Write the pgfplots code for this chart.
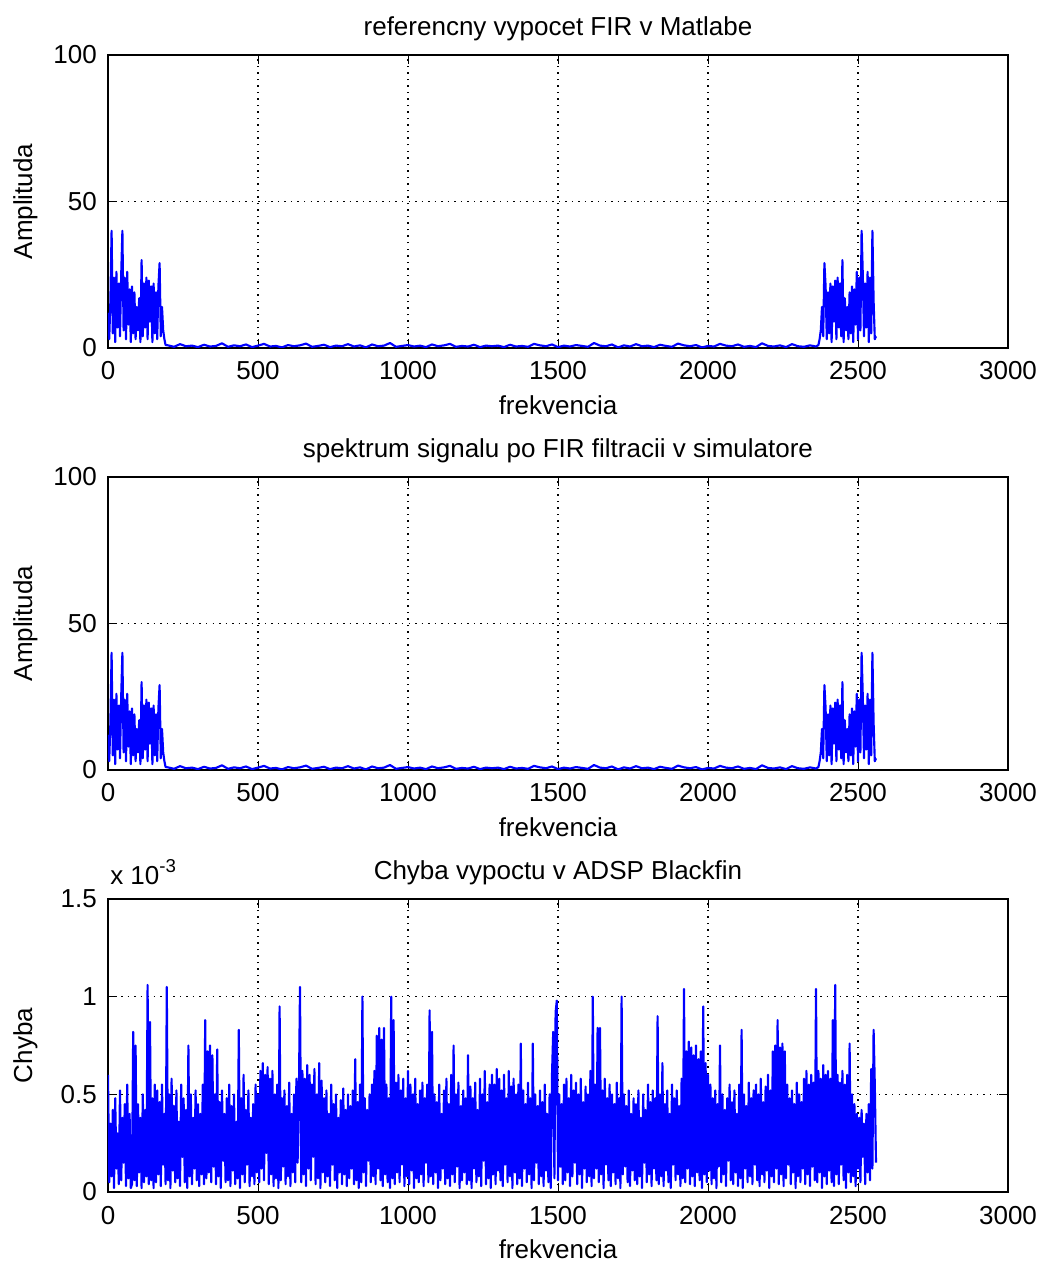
\documentclass[border=0pt]{standalone}
\usepackage{fontspec}
\setmainfont{Liberation Sans}
\usepackage{pgfplots}
\pgfplotsset{compat=1.18}
\pgfplotsset{
 mstyle/.style={
  scale only axis, width=675pt, height=219.75pt, anchor=south west,
  xmin=0, xmax=3000, xtick={0,500,...,3000},
  no markers,
  grid=major, major grid style={black, line width=0.8pt, dash pattern=on 1.1pt off 3.8pt},
  tick align=inside, major tick length=6.75pt,
  every tick/.style={black, line width=0.75pt},
  axis line style={line width=0.9pt},
  tick label style={font=\fontsize{19.5}{23}\selectfont},
  /pgf/number format/assume math mode=true,
  /pgf/number format/1000 sep={},
  xticklabel style={anchor=base, yshift=-24pt, inner sep=0pt},
  yticklabel style={anchor=east, xshift=-8.25pt, inner sep=0pt},
  label style={font=\fontsize{19.5}{23}\selectfont},
  title style={font=\fontsize{19.5}{23}\selectfont, at={(axis description cs:0.5,1)}, anchor=base, yshift=8.5pt},
  xlabel style={at={(axis description cs:0.5,0)}, anchor=base, yshift=-50pt},
  ylabel style={at={(axis description cs:-0.0919,0.5)}, anchor=center},
  xlabel={frekvencia},
  every axis plot/.append style={line width=1.6pt, line join=round, color=blue, mark=none},
 }
}
\begin{document}
\begin{tikzpicture}
\useasboundingbox (0,0) rectangle (780pt,947.25pt);
% ---------------- top
\begin{axis}[mstyle, at={(81pt,686.25pt)}, ymin=0, ymax=100, ytick={0,50,100},
  ylabel={Amplituda}, title={referencny vypocet FIR v Matlabe}]
\addplot coordinates {(0,12)(4,3)(8,16)(12,40)(16,5)(20,24)(24,2)(28,26)(32,7)(36,22)(40,4)(44,25)(48,40)(52,6)(56,24)(60,3)(64,26)(68,8)(72,20)(76,2)(80,21)(84,5)(88,19)(92,3)(96,14)(100,6)(104,17)(108,2)(112,30)(116,4)(120,22)(124,7)(128,24)(132,3)(136,23)(140,9)(144,21)(148,2)(152,22)(156,5)(160,19)(164,3)(168,21)(172,29)(176,4)(180,14)(184,6)(188,3)(192,1)
(200,.9)(220,.4)(240,1.3)(260,.6)(280,.8)(300,.3)(320,1.1)(340,.5)(360,.7)(380,1.6)(400,.4)(420,.9)(440,.6)(460,1.2)(480,.3)(500,.8)(520,1.4)(540,.5)(560,.7)(580,.2)(600,1.0)(620,.6)(640,.9)(660,1.5)(680,.4)(700,.7)(720,1.1)(740,.3)(760,.8)(780,.6)(800,1.3)(820,.5)(840,.9)(860,.2)(880,1.2)(900,.6)(920,.8)(940,1.7)(960,.4)(980,.7)(1000,1.0)(1020,.5)(1040,.8)(1060,.3)(1080,1.2)(1100,.6)(1120,.9)(1140,1.4)(1160,.4)(1180,.7)(1200,.5)(1220,1.1)(1240,.3)(1260,.8)(1280,.6)
(1300,.8)(1320,.3)(1340,1.1)(1360,.5)(1380,.7)(1400,.4)(1420,1.4)(1440,.9)(1460,.6)(1480,1.2)(1500,.3)(1520,.8)(1540,.5)(1560,1.0)(1580,.7)(1600,.4)(1620,1.7)(1640,.8)(1660,.6)(1680,1.2)(1700,.2)(1720,.9)(1740,.5)(1760,1.3)(1780,.6)(1800,.8)(1820,.3)(1840,1.1)(1860,.7)(1880,.4)(1900,1.5)(1920,.9)(1940,.6)(1960,1.0)(1980,.2)(2000,.7)(2020,.5)(2040,1.4)(2060,.8)(2080,.6)(2100,1.2)(2120,.4)(2140,.7)(2160,.3)(2180,1.6)(2200,.7)(2220,.5)(2240,.9)(2260,.3)(2280,1.3)(2300,.6)(2320,.4)(2340,.9)(2360,.5)
(2368,1)(2372,3)(2376,6)(2380,14)(2384,4)(2388,29)(2392,21)(2396,3)(2400,19)(2404,5)(2408,22)(2412,2)(2416,21)(2420,9)(2424,23)(2428,3)(2432,24)(2436,7)(2440,22)(2444,4)(2448,30)(2452,2)(2456,17)(2460,6)(2464,14)(2468,3)(2472,19)(2476,5)(2480,21)(2484,2)(2488,20)(2492,8)(2496,26)(2500,3)(2504,24)(2508,6)(2512,40)(2516,25)(2520,4)(2524,22)(2528,7)(2532,26)(2536,2)(2540,24)(2544,5)(2548,40)(2552,16)(2556,3)(2560,4)};
\end{axis}
% ---------------- middle
\begin{axis}[mstyle, at={(81pt,369.75pt)}, ymin=0, ymax=100, ytick={0,50,100},
  ylabel={Amplituda}, title={spektrum signalu po FIR filtracii v simulatore}]
\addplot coordinates {(0,12)(4,3)(8,16)(12,40)(16,5)(20,24)(24,2)(28,26)(32,7)(36,22)(40,4)(44,25)(48,40)(52,6)(56,24)(60,3)(64,26)(68,8)(72,20)(76,2)(80,21)(84,5)(88,19)(92,3)(96,14)(100,6)(104,17)(108,2)(112,30)(116,4)(120,22)(124,7)(128,24)(132,3)(136,23)(140,9)(144,21)(148,2)(152,22)(156,5)(160,19)(164,3)(168,21)(172,29)(176,4)(180,14)(184,6)(188,3)(192,1)
(200,.9)(220,.4)(240,1.3)(260,.6)(280,.8)(300,.3)(320,1.1)(340,.5)(360,.7)(380,1.6)(400,.4)(420,.9)(440,.6)(460,1.2)(480,.3)(500,.8)(520,1.4)(540,.5)(560,.7)(580,.2)(600,1.0)(620,.6)(640,.9)(660,1.5)(680,.4)(700,.7)(720,1.1)(740,.3)(760,.8)(780,.6)(800,1.3)(820,.5)(840,.9)(860,.2)(880,1.2)(900,.6)(920,.8)(940,1.7)(960,.4)(980,.7)(1000,1.0)(1020,.5)(1040,.8)(1060,.3)(1080,1.2)(1100,.6)(1120,.9)(1140,1.4)(1160,.4)(1180,.7)(1200,.5)(1220,1.1)(1240,.3)(1260,.8)(1280,.6)
(1300,.8)(1320,.3)(1340,1.1)(1360,.5)(1380,.7)(1400,.4)(1420,1.4)(1440,.9)(1460,.6)(1480,1.2)(1500,.3)(1520,.8)(1540,.5)(1560,1.0)(1580,.7)(1600,.4)(1620,1.7)(1640,.8)(1660,.6)(1680,1.2)(1700,.2)(1720,.9)(1740,.5)(1760,1.3)(1780,.6)(1800,.8)(1820,.3)(1840,1.1)(1860,.7)(1880,.4)(1900,1.5)(1920,.9)(1940,.6)(1960,1.0)(1980,.2)(2000,.7)(2020,.5)(2040,1.4)(2060,.8)(2080,.6)(2100,1.2)(2120,.4)(2140,.7)(2160,.3)(2180,1.6)(2200,.7)(2220,.5)(2240,.9)(2260,.3)(2280,1.3)(2300,.6)(2320,.4)(2340,.9)(2360,.5)
(2368,1)(2372,3)(2376,6)(2380,14)(2384,4)(2388,29)(2392,21)(2396,3)(2400,19)(2404,5)(2408,22)(2412,2)(2416,21)(2420,9)(2424,23)(2428,3)(2432,24)(2436,7)(2440,22)(2444,4)(2448,30)(2452,2)(2456,17)(2460,6)(2464,14)(2468,3)(2472,19)(2476,5)(2480,21)(2484,2)(2488,20)(2492,8)(2496,26)(2500,3)(2504,24)(2508,6)(2512,40)(2516,25)(2520,4)(2524,22)(2528,7)(2532,26)(2536,2)(2540,24)(2544,5)(2548,40)(2552,16)(2556,3)(2560,4)};
\end{axis}
% ---------------- bottom
\begin{axis}[mstyle, name=c, at={(81pt,53.25pt)}, ymin=0, ymax=1.5, ytick={0,0.5,1,1.5},
  ylabel={Chyba}, title={Chyba vypoctu v ADSP Blackfin}]
\addplot coordinates {
(0,.60)(4,.05)(8,.35)(12,.08)(16,.42)(20,.02)(24,.48)(28,.12)(32,.30)(36,.04)(40,.52)(44,.06)(48,.38)(52,.15)(56,.45)(60,.03)(64,.55)(68,.07)(72,.40)(76,.02)
(80,.04)(84,.82)(88,.06)(92,.75)(96,.03)(100,.45)(104,.10)(108,.38)(112,.02)(116,.50)(120,.05)(124,.42)(128,.08)(132,1.06)(136,.04)(140,.87)(144,.06)(148,.48)(152,.02)(156,.55)
(160,.05)(164,.52)(168,.09)(172,.46)(176,.03)(180,.55)(184,.14)(188,.40)(192,.04)(196,1.05)(200,.06)(204,.50)(208,.02)(212,.58)(216,.11)(220,.44)(224,.05)(228,.52)(232,.07)(236,.36)
(240,.03)(244,.55)(248,.18)(252,.48)(256,.05)(260,.42)(264,.02)(268,.75)(272,.08)(276,.50)(280,.04)(284,.38)(288,.12)(292,.52)(296,.06)(300,.45)(304,.03)(308,.40)(312,.09)(316,.55)
(320,.04)(324,.88)(328,.07)(332,.72)(336,.10)(340,.75)(344,.05)(348,.70)(352,.13)(356,.50)(360,.04)(364,.73)(368,.08)(372,.46)(376,.02)(380,.52)(384,.16)(388,.40)(392,.05)(396,.48)
(400,.06)(404,.55)(408,.03)(412,.44)(416,.11)(420,.50)(424,.04)(428,.36)(432,.07)(436,.83)(440,.02)(444,.48)(448,.09)(452,.60)(456,.05)(460,.42)(464,.14)(468,.52)(472,.03)(476,.38)
(480,.08)(484,.45)(488,.04)(492,.55)(496,.10)(500,.50)(504,.05)(508,.62)(512,.12)(516,.66)(520,.06)(524,.60)(528,.20)(532,.64)(536,.04)(540,.58)(544,.09)(548,.62)(552,.03)(556,.50)
(560,.07)(564,.55)(568,.02)(572,.95)(576,.06)(580,.48)(584,.13)(588,.52)(592,.04)(596,.44)(600,.08)(604,.56)(608,.03)(612,.40)(616,.10)(620,.50)(624,.05)(628,.58)(632,.15)(636,.46)
(640,1.05)(644,.05)(648,.62)(652,.09)(656,.58)(660,.03)(664,.65)(668,.12)(672,.60)(676,.06)(680,.55)(684,.18)(688,.63)(692,.04)(696,.50)(700,.07)(704,.66)(708,.02)(712,.57)(716,.10)
(720,.48)(724,.05)(728,.52)(732,.08)(736,.40)(740,.03)(744,.55)(748,.14)(752,.45)(756,.06)(760,.50)(764,.02)(768,.38)(772,.10)(776,.47)(780,.04)(784,.53)(788,.09)(792,.42)(796,.03)
(800,.50)(804,.07)(808,.44)(812,.12)(816,.52)(820,.04)(824,.68)(828,.06)(832,.46)(836,.02)(840,.55)(844,.05)(848,1.00)(852,.10)(856,.48)(860,.03)(864,.42)(868,.16)(872,.50)(876,.05)
(880,.55)(884,.08)(888,.62)(892,.04)(896,.80)(900,.12)(904,.84)(908,.06)(912,.78)(916,.03)(920,.84)(924,.09)(928,.55)(932,.05)(936,.48)(940,.02)(944,1.00)(948,.07)(952,.88)(956,.04)
(960,.56)(964,.10)(968,.60)(972,.05)(976,.52)(980,.14)(984,.58)(988,.03)(992,.48)(996,.08)(1000,.62)(1004,.04)(1008,.55)(1012,.11)(1016,.50)(1020,.02)(1024,.58)(1028,.07)(1032,.45)(1036,.05)
(1040,.52)(1044,.09)(1048,.56)(1052,.03)(1056,.48)(1060,.15)(1064,.55)(1068,.05)(1072,.93)(1076,.08)(1080,.82)(1084,.04)(1088,.50)(1092,.10)(1096,.46)(1100,.02)(1104,.55)(1108,.06)(1112,.40)(1116,.12)
(1120,.52)(1124,.04)(1128,.58)(1132,.07)(1136,.45)(1140,.03)(1144,.60)(1148,.09)(1152,.75)(1156,.05)(1160,.50)(1164,.13)(1168,.56)(1172,.02)(1176,.44)(1180,.06)(1184,.52)(1188,.10)(1192,.48)(1196,.04)
(1200,.70)(1204,.06)(1208,.54)(1212,.02)(1216,.48)(1220,.12)(1224,.56)(1228,.05)(1232,.42)(1236,.08)(1240,.58)(1244,.03)(1248,.50)(1252,.16)(1256,.62)(1260,.04)(1264,.46)(1268,.07)(1272,.55)(1276,.02)
(1280,.60)(1284,.09)(1288,.55)(1292,.04)(1296,.63)(1300,.11)(1304,.58)(1308,.06)(1312,.52)(1316,.03)(1320,.60)(1324,.14)(1328,.48)(1332,.05)(1336,.62)(1340,.08)(1344,.54)(1348,.02)(1352,.58)(1356,.10)
(1360,.50)(1364,.04)(1368,.55)(1372,.07)(1376,.76)(1380,.03)(1384,.52)(1388,.12)(1392,.45)(1396,.05)(1400,.56)(1404,.09)(1408,.48)(1412,.02)(1416,.76)(1420,.06)(1424,.50)(1428,.15)(1432,.44)(1436,.04)
(1440,.52)(1444,.08)(1448,.46)(1452,.03)(1456,.55)(1460,.11)(1464,.40)(1468,.05)(1472,.50)(1476,.02)(1480,.60)(1484,.82)(1488,.07)(1492,.92)(1496,.98)(1500,.06)(1504,.50)(1508,.13)(1512,.45)(1516,.04)
(1520,.55)(1524,.06)(1528,.58)(1532,.10)(1536,.48)(1540,.03)(1544,.60)(1548,.08)(1552,.52)(1556,.15)(1560,.56)(1564,.04)(1568,.50)(1572,.09)(1576,.58)(1580,.02)(1584,.46)(1588,.12)(1592,.54)(1596,.05)
(1600,.50)(1604,.08)(1608,.62)(1612,.03)(1616,1.00)(1620,.07)(1624,.55)(1628,.12)(1632,.84)(1636,.05)(1640,.84)(1644,.09)(1648,.52)(1652,.02)(1656,.58)(1660,.14)(1664,.48)(1668,.06)(1672,.55)(1676,.03)
(1680,.50)(1684,.10)(1688,.45)(1692,.04)(1696,.56)(1700,.07)(1704,.48)(1708,.02)(1712,1.00)(1716,.09)(1720,.50)(1724,.13)(1728,.44)(1732,.05)(1736,.52)(1740,.03)(1744,.40)(1748,.11)(1752,.48)(1756,.06)
(1760,.45)(1764,.04)(1768,.52)(1772,.08)(1776,.38)(1780,.02)(1784,.50)(1788,.15)(1792,.42)(1796,.05)(1800,.55)(1804,.09)(1808,.46)(1812,.03)(1816,.52)(1820,.12)(1824,.48)(1828,.06)(1832,.90)(1836,.04)
(1840,.50)(1844,.08)(1848,.66)(1852,.03)(1856,.45)(1860,.11)(1864,.52)(1868,.05)(1872,.40)(1876,.02)(1880,.55)(1884,.14)(1888,.48)(1892,.06)(1896,.52)(1900,.09)(1904,.44)(1908,.03)(1912,.58)(1916,.07)
(1920,1.04)(1924,.05)(1928,.72)(1932,.12)(1936,.77)(1940,.04)(1944,.74)(1948,.08)(1952,.70)(1956,.03)(1960,.75)(1964,.10)(1968,.68)(1972,.06)(1976,.72)(1980,.02)(1984,.95)(1988,.09)(1992,.66)(1996,.05)
(2000,.60)(2004,.11)(2008,.55)(2012,.04)(2016,.48)(2020,.07)(2024,.52)(2028,.02)(2032,.45)(2036,.13)(2040,.75)(2044,.05)(2048,.50)(2052,.09)(2056,.42)(2060,.03)(2064,.48)(2068,.16)(2072,.55)(2076,.06)
(2080,.46)(2084,.04)(2088,.52)(2092,.10)(2096,.40)(2100,.03)(2104,.55)(2108,.07)(2112,.83)(2116,.02)(2120,.50)(2124,.12)(2128,.44)(2132,.05)(2136,.56)(2140,.08)(2144,.48)(2148,.04)(2152,.52)(2156,.14)
(2160,.55)(2164,.06)(2168,.50)(2172,.03)(2176,.58)(2180,.09)(2184,.46)(2188,.05)(2192,.54)(2196,.11)(2200,.60)(2204,.02)(2208,.52)(2212,.08)(2216,.72)(2220,.05)(2224,.75)(2228,.12)(2232,.88)(2236,.04)
(2240,.74)(2244,.09)(2248,.76)(2252,.03)(2256,.72)(2260,.07)(2264,.55)(2268,.14)(2272,.48)(2276,.04)(2280,.52)(2284,.10)(2288,.45)(2292,.02)(2296,.56)(2300,.08)(2304,.50)(2308,.05)(2312,.46)(2316,.12)
(2320,.58)(2324,.04)(2328,.62)(2332,.09)(2336,.55)(2340,.03)(2344,.60)(2348,.13)(2352,.56)(2356,.06)(2360,1.04)(2364,.05)(2368,.62)(2372,.10)(2376,.58)(2380,.02)(2384,.65)(2388,.08)(2392,.60)(2396,.04)
(2400,.62)(2404,.11)(2408,.58)(2412,.05)(2416,.88)(2420,.03)(2424,1.06)(2428,.09)(2432,.60)(2436,.04)(2440,.56)(2444,.14)(2448,.62)(2452,.06)(2456,.55)(2460,.02)(2464,.60)(2468,.10)(2472,.76)(2476,.05)
(2480,.50)(2484,.08)(2488,.45)(2492,.03)(2496,.40)(2500,.12)(2504,.38)(2508,.05)(2512,.42)(2516,.18)(2520,.35)(2524,.04)(2528,.40)(2532,.10)(2536,.45)(2540,.06)(2544,.63)(2548,.12)(2552,.83)(2556,.55)(2560,.15)};
\end{axis}
\node[anchor=base west, inner sep=0pt, font=\fontsize{19.5}{23}\selectfont] at ([xshift=1.5pt,yshift=10.5pt]c.north west) {x 10\raisebox{9pt}{\fontsize{14}{16}\selectfont -3}};
\end{tikzpicture}
\end{document}
